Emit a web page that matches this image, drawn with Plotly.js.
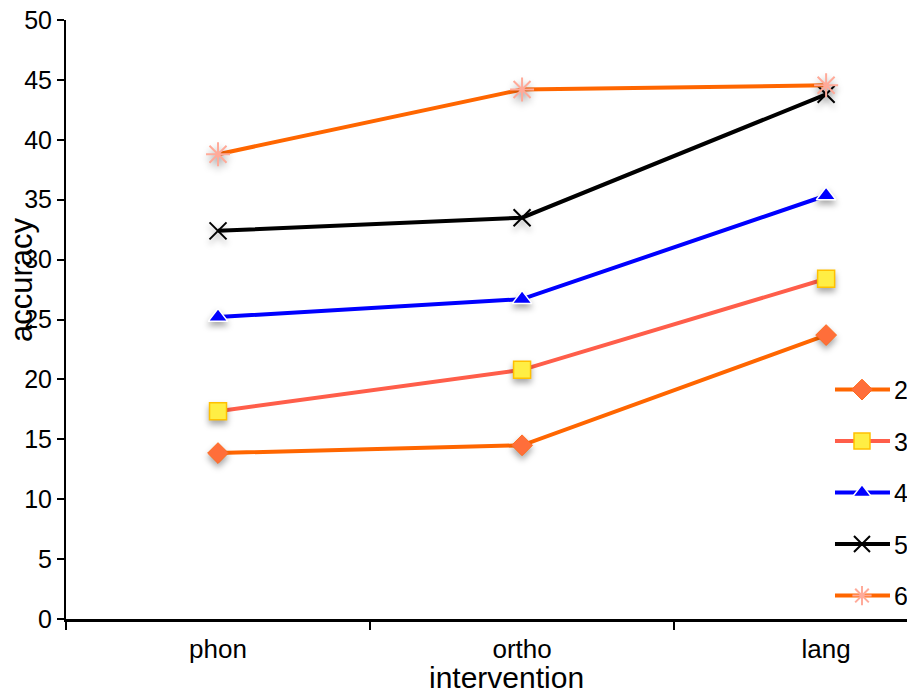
<!DOCTYPE html>
<html>
<head>
<meta charset="utf-8">
<script src="https://cdn.plot.ly/plotly-3.0.1.min.js"></script>
<style>
html,body{margin:0;padding:0;background:#fff;}
#chart{width:907px;height:694px;}
.scatterlayer .points path{filter:drop-shadow(0px 4px 3px rgba(0,0,0,0.35));}
</style>
</head>
<body>
<div id="chart"></div>
<script>
const categories = ["phon", "ortho", "lang"];
const seriesNames = ["2", "3", "4", "5", "6"];
const s2 = [13.85, 14.5, 23.7];
const s3 = [17.35, 20.8, 28.4];
const s4 = [25.2, 26.7, 35.35];
const s5 = [32.4, 33.5, 43.8];
const s6 = [38.8, 44.2, 44.55];
const yTicks = [0, 5, 10, 15, 20, 25, 30, 35, 40, 45, 50];

const styles = [
  {line: "#FF6600", symbol: "diamond", fill: "#FF6E3A", mline: "#FF6A1A", mw: 1, size: 16},
  {line: "#FF5E4A", symbol: "square", fill: "#FFEE44", mline: "#FFC000", mw: 1.5, size: 17},
  {line: "#0000FF", symbol: "triangle-up", fill: "#0000FF", mline: "#FFFFFF", mw: 1.5, size: 17},
  {line: "#000000", symbol: "x-thin-open", fill: "#000000", mline: "#000000", mw: 2, size: 17},
  {line: "#FF6600", symbol: "asterisk-open", fill: "#FFAA99", mline: "#FFA896", mw: 2, size: 20}
];
const values = [s2, s3, s4, s5, s6];

const traces = values.map((v, i) => ({
  type: "scatter",
  mode: "lines+markers",
  x: categories,
  y: v,
  name: seriesNames[i],
  legendgroup: "g" + i,
  line: {color: styles[i].line, width: 4},
  marker: {
    symbol: styles[i].symbol,
    size: styles[i].size,
    color: styles[i].fill,
    line: {color: styles[i].mline, width: styles[i].mw}
  }
}));

const font = "Liberation Sans, Arial, sans-serif";
const layout = {
  width: 907,
  height: 694,
  margin: {l: 66, r: 0, t: 20, b: 75},
  paper_bgcolor: "#fff",
  plot_bgcolor: "#fff",
  font: {family: font, size: 25, color: "#000"},
  showlegend: true,
  legend: {
    x: 0.9227, y: 0.421, xanchor: "left", yanchor: "top",
    bgcolor: "rgba(0,0,0,0)",
    font: {family: font, size: 25, color: "#000"},
    tracegroupgap: 16,
    itemwidth: 30
  },
  xaxis: {
    type: "category",
    range: [-0.5, 2.266],
    showgrid: false,
    zeroline: false,
    showline: true,
    linecolor: "#000",
    linewidth: 2.5,
    ticks: "outside",
    tickson: "boundaries",
    ticklen: 8,
    tickwidth: 2,
    tickcolor: "#000",
    ticklabelstandoff: 5,
    tickfont: {family: font, size: 26, color: "#000"},
    title: {text: ""}
  },
  yaxis: {
    range: [0, 50],
    tickvals: yTicks,
    showgrid: false,
    zeroline: false,
    showline: true,
    linecolor: "#000",
    linewidth: 2,
    ticks: "outside",
    ticklen: 7,
    tickwidth: 2,
    tickcolor: "#000",
    tickfont: {family: font, size: 25, color: "#000"},
    title: {text: ""}
  },
  annotations: [
    {text: "intervention", xref: "paper", yref: "paper", x: (507 - 66) / 841, y: 0, yshift: -58,
     xanchor: "center", yanchor: "middle", showarrow: false, font: {family: font, size: 30, color: "#000"}},
    {text: "accuracy", xref: "paper", yref: "paper", x: 0, xshift: -45, y: (619 - 280) / 599,
     textangle: -90, xanchor: "center", yanchor: "middle", showarrow: false, font: {family: font, size: 31, color: "#000"}}
  ]
};

Plotly.newPlot("chart", traces, layout, {displayModeBar: false, staticPlot: true}).then(gd => {
  // lengthen legend sample lines and shift the labels to match the reference legend
  gd.querySelectorAll(".legend [clip-path]").forEach(el => el.removeAttribute("clip-path"));
  gd.querySelectorAll(".legend .traces").forEach(t => {
    t.querySelectorAll(".legendlines path").forEach(p => p.setAttribute("d", "M-7,0h55"));
    const txt = t.querySelector("text.legendtext");
    if (txt) txt.setAttribute("x", "52");
  });
});
</script>
</body>
</html>
